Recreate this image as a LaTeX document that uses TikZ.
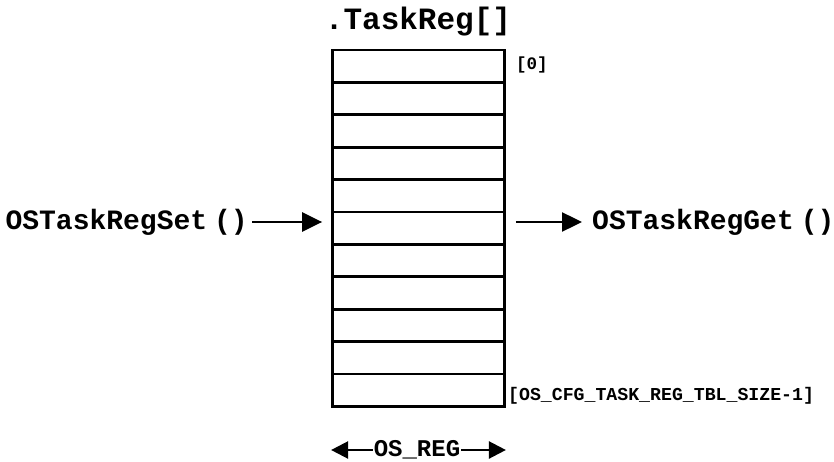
\documentclass[tikz,border=0pt]{standalone}
\usepackage{fontspec}
\setmonofont{Liberation Mono}
\usetikzlibrary{arrows.meta,positioning,calc}

\begin{document}
\begin{tikzpicture}[
  x=1pt, y=-1pt,
  every node/.style={font=\ttfamily\bfseries},
  slot/.style={draw, line width=2.8pt, minimum width=172pt,
               minimum height=32.4pt, inner sep=0pt},
  fcall/.style={font=\ttfamily\bfseries\fontsize{28}{30}\selectfont, inner sep=0pt},
  idx/.style={font=\ttfamily\bfseries\fontsize{17.5}{19}\selectfont, inner sep=0pt},
  arrow/.style={-{Triangle[length=20pt,width=19pt]}, line width=2.4pt}
]
\useasboundingbox (0,0) rectangle (834,462);

%% Title
\node[font=\ttfamily\bfseries\fontsize{31}{33}\selectfont, inner sep=0pt]
  (title) at (418,22) {.TaskReg[]};

%% ── TABLE OF TASK REGISTERS ──────────────────────────────────
\foreach \i in {0,...,10}
  \node[slot] (row\i) at (418.5, {50+32.4*(\i+0.5)}) {};

\node[idx, anchor=west] (first) at (516,65) {[0]};
\node[idx, anchor=west, font=\ttfamily\bfseries\fontsize{18.2}{20}\selectfont]
  (last) at (508,396) {[OS\_CFG\_TASK\_REG\_TBL\_SIZE-1]};

%% ── SET / GET CALLS ──────────────────────────────────────────
\node[fcall, anchor=east] (setcall) at (248,222) {OSTaskRegSet\hspace{0.25em}()};
\node[fcall, anchor=west] (getcall) at (592,222) {OSTaskRegGet\hspace{0.25em}()};

\coordinate (setend)   at ($(setcall.east -| row5.west)+(-9,0)$);
\coordinate (getstart) at ($(getcall.west -| row5.east)+(10,0)$);
\draw[arrow] ([xshift=4pt]setcall.east) -- (setend);
\draw[arrow] (getstart) -- ([xshift=-10pt]getcall.west);

%% ── WIDTH OF ONE ENTRY ───────────────────────────────────────
\node[font=\ttfamily\bfseries\fontsize{24}{26}\selectfont, inner sep=1pt]
  (width) at (417,450) {OS\_REG};
\coordinate (wleft)  at (row10.south west |- width.west);
\coordinate (wright) at (row10.south east |- width.east);
\draw[arrow, -{Triangle[length=17pt,width=17pt]}] (width.west) -- (wleft);
\draw[arrow, -{Triangle[length=17pt,width=17pt]}] (width.east) -- (wright);

\end{tikzpicture}
\end{document}
